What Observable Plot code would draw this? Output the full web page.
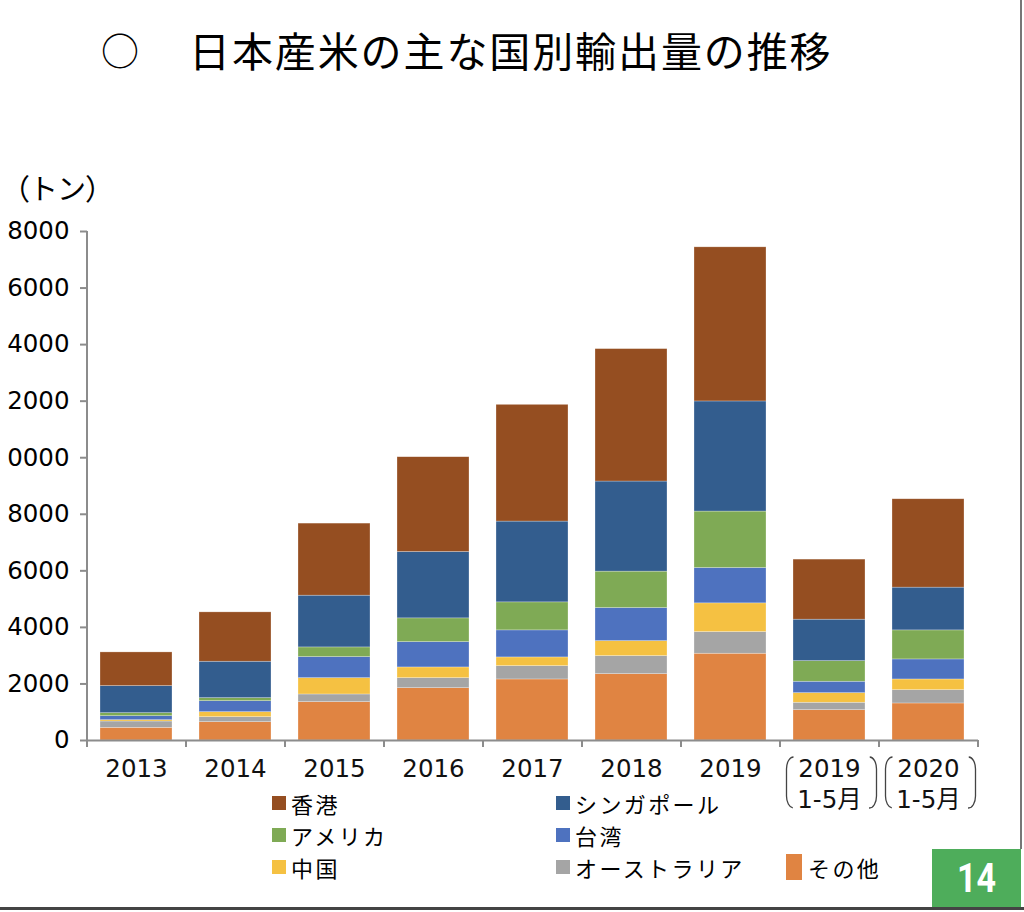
<!DOCTYPE html>
<html><head><meta charset="utf-8">
<script src="https://cdn.jsdelivr.net/npm/d3@7"></script>
<script src="https://cdn.jsdelivr.net/npm/@observablehq/plot@0.6"></script>
<style>
body{margin:0;background:#fff;}
#page{position:relative;width:1024px;height:912px;overflow:hidden;background:#fff;font-family:"Noto Sans CJK JP",sans-serif;color:#000;text-spacing-trim:space-all;}
#circle{position:absolute;left:101px;top:19px;font-size:38px;line-height:60px;}
#title{position:absolute;left:189px;top:19px;font-size:41px;line-height:60px;letter-spacing:1.9px;white-space:nowrap;}
#unit{position:absolute;left:1px;top:167px;font-size:29px;line-height:40px;white-space:nowrap;z-index:2;}
#unit span{display:inline-block;width:28px;text-align:center;}
#chart{position:absolute;left:0;top:170px;z-index:1;}
#legend{position:absolute;left:272px;top:787px;display:grid;grid-template-columns:284px 230px 120px;grid-auto-rows:32px;font-size:22px;letter-spacing:2.4px;z-index:2;}
.item{display:flex;align-items:center;white-space:nowrap;height:32px;}
.sw{width:14px;height:14px;margin-right:5px;flex:none;}
.sw.big{width:16px;height:26px;margin-right:6px;}
#pg{position:absolute;left:932px;top:849px;width:89px;height:59px;background:#4EAD5B;z-index:2;}
#pg span{position:absolute;left:0;top:0;width:89px;height:59px;line-height:59px;text-align:center;color:#fff;font-family:"Roboto","Noto Sans",sans-serif;font-weight:700;font-size:40px;transform:scaleX(0.85);}
#rline{position:absolute;left:1020px;top:0;width:2px;height:849px;background:#777;z-index:2;}
#bline{position:absolute;left:0;top:907px;width:1024px;height:3px;background:#444;z-index:3;}
</style></head><body>
<div id="page">
  <div id="chart"></div>
  <div id="circle">○</div>
  <div id="title">日本産米の主な国別輸出量の推移</div>
  <div id="unit"></div>
  <div id="legend"></div>
  <div id="rline"></div>
  <div id="pg"><span>14</span></div>
  <div id="bline"></div>
</div>
<script>
const unitLabel = "（トン）";
const categories = ["2013","2014","2015","2016","2017","2018","2019","2019(1-5月)","2020(1-5月)"];
const xTickLabels = ["2013","2014","2015","2016","2017","2018","2019","2019\n1-5月","2020\n1-5月"];
const bracketed = ["2019(1-5月)","2020(1-5月)"];

// stacking order: bottom → top
const seriesNames = ["その他","オーストラリア","中国","台湾","アメリカ","シンガポール","香港"];
const seriesColors = ["#E08442","#A5A5A5","#F5C142","#4E72BF","#7FAA55","#335D8E","#954E21"];

const sonota    = [448, 648, 1357, 1851, 2159, 2347, 3069, 1073, 1310];
const australia = [224, 177,  271,  354,  471,  638,  766,  262,  471];
const china     = [ 47, 177,  577,  379,  308,  530, 1015,  340,  378];
const taiwan    = [141, 389,  745,  896,  956, 1169, 1250,  403,  708];
const america   = [107, 107,  342,  839,  991, 1288, 1996,  729, 1027];
const singapore = [958,1288, 1830, 2347, 2857, 3186, 3894, 1466, 1512];
const hongkong  = [1190,1745,2548, 3352, 4128, 4683, 5450, 2124, 3125];

const yTicks = [0,2000,4000,6000,8000,10000,12000,14000,16000,18000];
const yTickLabels = ["0","2000","4000","6000","8000","0000","2000","4000","6000","8000"];

const legendOrder = ["香港","シンガポール","アメリカ","台湾","中国","オーストラリア","その他"];

const seriesValues = [sonota, australia, china, taiwan, america, singapore, hongkong];
const table = [];
categories.forEach((c, i) => {
  seriesNames.forEach((s, k) => table.push({category: c, series: s, value: seriesValues[k][i]}));
});

// unit label, one fixed-width cell per full-width character
const unitEl = document.getElementById("unit");
for (const ch of unitLabel) {
  const s = document.createElement("span");
  s.textContent = ch;
  unitEl.appendChild(s);
}

const W = 1024, H = 645;
const mL = 87, mR = 46, mT = 61, mB = 75;
const step = (W - mL - mR) / categories.length;
const axisColor = "#8c8c8c";
const numFont = "'DejaVu Sans','Noto Sans CJK JP',sans-serif";

// bracket (rounded rect with only its sides stroked)
const bL = -6.5, bR = -11.5, bTop = 17, bBot = 68, brx = 7, bry = 12;
const bandW = step * (1 - 0.27);
const bw = bandW - bL - bR, bh = bBot - bTop;
const qa = Math.PI * (3 * (brx + bry) - Math.sqrt((3 * brx + bry) * (brx + 3 * bry))) / 4;
const topLen = bw - 2 * brx, sideLen = 2 * qa + bh - 2 * bry;
const dash = `0 ${topLen} ${sideLen} ${topLen} ${sideLen}`;

const chart = Plot.plot({
  width: W, height: H,
  marginLeft: mL, marginRight: mR, marginTop: mT, marginBottom: mB,
  style: {fontFamily: numFont, background: "transparent", overflow: "visible"},
  x: {domain: categories, paddingInner: 0.27, paddingOuter: 0.135, axis: null},
  y: {domain: [0, 18000], axis: null},
  color: {domain: seriesNames, range: seriesColors},
  marks: [
    Plot.barY(table, {x: "category", y: "value", fill: "series", order: seriesNames,
      stroke: "#ffffff", strokeOpacity: 0.45, strokeWidth: 0.6}),
    Plot.axisY({ticks: yTicks, tickSize: 7, tickPadding: 11, stroke: axisColor, strokeWidth: 2,
      fill: "#000", fontSize: 24.5, label: null, tickFormat: d => yTickLabels[yTicks.indexOf(d)]}),
    Plot.ruleY([0], {stroke: axisColor, strokeWidth: 2}),
    Plot.ruleX([categories[0]], {x: d => d, dx: -step / 2, y1: 0, y2: 18000, insetTop: 7, stroke: axisColor, strokeWidth: 2}),
    Plot.ruleX(categories, {x: d => d, dx: -step / 2, y1: 0, y2: 0, insetTop: 7, stroke: axisColor, strokeWidth: 2}),
    Plot.ruleX([categories[categories.length - 1]], {x: d => d, dx: step / 2, y1: 0, y2: 0, insetTop: 7, stroke: axisColor, strokeWidth: 2}),
    Plot.text(categories, {x: d => d, text: d => xTickLabels[categories.indexOf(d)], frameAnchor: "bottom",
      dy: 15, lineAnchor: "top", lineHeight: 1.25, fontSize: 24.5, fill: "#111"}),
    Plot.barY(bracketed, {x: d => d, y1: 0, y2: 0, insetTop: bTop, insetBottom: -bBot,
      insetLeft: bL, insetRight: bR, rx: brx, ry: bry, fill: "none", stroke: "#444", strokeWidth: 1.3,
      strokeDasharray: dash})
  ]
});
document.getElementById("chart").appendChild(chart);

const legend = document.getElementById("legend");
const placement = {"香港":[1,1],"シンガポール":[1,2],"アメリカ":[2,1],"台湾":[2,2],"中国":[3,1],"オーストラリア":[3,2],"その他":[3,3]};
legendOrder.forEach(name => {
  const it = document.createElement("div");
  it.className = "item";
  const [r, c] = placement[name];
  it.style.gridRow = r; it.style.gridColumn = c;
  const sw = document.createElement("span");
  sw.className = "sw" + (name === "その他" ? " big" : "");
  sw.style.background = seriesColors[seriesNames.indexOf(name)];
  const tx = document.createElement("span");
  tx.textContent = name;
  it.appendChild(sw); it.appendChild(tx);
  legend.appendChild(it);
});
</script>
</body></html>
